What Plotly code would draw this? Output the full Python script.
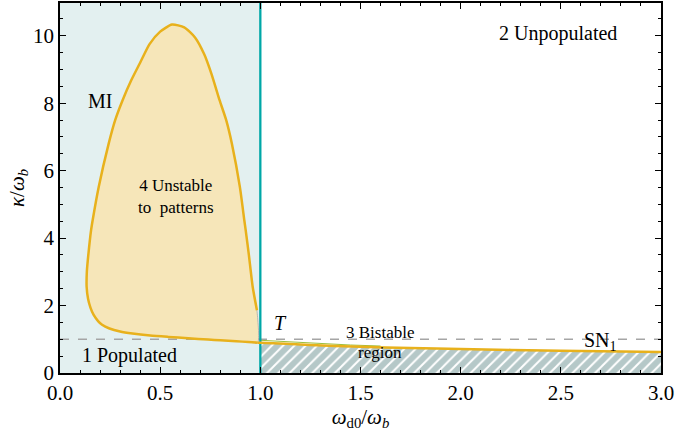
import plotly.graph_objects as go

# --- data ---
# Boundary of region 4 ("Unstable to patterns"), starting bottom-right, going left along the
# bottom, up the left side, over the top and down the right side to x ~ 1.
loop_x = [0.987, 0.94, 0.88, 0.80, 0.74, 0.64, 0.54, 0.45, 0.362, 0.30, 0.247, 0.21, 0.19, 0.168,
          0.152, 0.14, 0.133, 0.134, 0.142, 0.155, 0.163, 0.193, 0.243, 0.275, 0.312, 0.355, 0.40,
          0.447, 0.50, 0.559, 0.62, 0.674, 0.72, 0.756, 0.797, 0.83, 0.858, 0.898, 0.92, 0.927,
          0.942, 0.962, 0.983]
loop_y = [0.90, 0.92, 0.94, 0.97, 0.99, 1.03, 1.07, 1.11, 1.17, 1.23, 1.32, 1.43, 1.54, 1.72,
          1.94, 2.2, 2.55, 3.0, 3.54, 4.23, 4.53, 5.51, 6.8, 7.49, 8.08, 8.67, 9.2,
          9.75, 10.12, 10.33, 10.25, 9.95, 9.45, 8.87, 8.08, 7.49, 6.8, 5.51, 4.53, 4.23,
          3.54, 2.55, 1.86]

# SN1 branch (lower edge of the bistable region)
sn_x = [0.987, 1.0, 1.25, 1.5, 1.75, 2.0, 2.5, 3.0]
sn_y = [0.90, 0.90, 0.83, 0.78, 0.74, 0.71, 0.66, 0.62]

# thin greenish branch near T
g_x = [1.0, 1.2, 1.45, 1.6]
g_y = [0.97, 0.90, 0.83, 0.80]

x_ticks = [0.0, 0.5, 1.0, 1.5, 2.0, 2.5, 3.0]
x_tick_labels = ["0.0", "0.5", "1.0", "1.5", "2.0", "2.5", "3.0"]
y_ticks = [0, 2, 4, 6, 8, 10]

ORANGE = "#E8B11C"
FILL_OR = "#F6E6B9"
BLUE_BG = "#E3F0F0"
TEAL = "#00A7A7"
SERIF = "Liberation Serif"

fig = go.Figure()

# region 1 / MI background (x < 1)
fig.add_trace(go.Scatter(x=[0, 1, 1, 0, 0], y=[0, 0, 11, 11, 0], mode="none",
                         fill="toself", fillcolor=BLUE_BG, hoverinfo="skip"))

# dashed line kappa = omega_b
fig.add_trace(go.Scatter(x=[0, 3], y=[1, 1], mode="lines",
                         line=dict(color="#A5A5A5", width=1.3, dash="dash"), hoverinfo="skip"))

# region 4 fill
fig.add_trace(go.Scatter(x=loop_x + [loop_x[0]], y=loop_y + [loop_y[0]], mode="lines",
                         fill="toself", fillcolor=FILL_OR,
                         line=dict(color="#A8A8A8", width=0.8, shape="spline", smoothing=0.6),
                         hoverinfo="skip"))

# hatched bistable region
fig.add_trace(go.Scatter(x=sn_x[1:] + [3, 1, 1], y=sn_y[1:] + [0, 0, sn_y[1]], mode="none",
                         fill="toself", fillcolor="#B5C8C8",
                         fillpattern=dict(shape="/", bgcolor="#B5C8C8", fgcolor="white",
                                          fgopacity=1, size=8, solidity=0.25),
                         hoverinfo="skip"))

# thin green branch
fig.add_trace(go.Scatter(x=g_x, y=g_y, mode="lines", line=dict(color="#9DBF3C", width=1),
                         hoverinfo="skip"))

# teal boundary at omega_d0 = omega_b
fig.add_trace(go.Scatter(x=[1, 1], y=[0, 11], mode="lines",
                         line=dict(color=TEAL, width=2.3), hoverinfo="skip"))

# orange MI boundary (open at the right side)
fig.add_trace(go.Scatter(x=loop_x, y=loop_y, mode="lines",
                         line=dict(color=ORANGE, width=2.5, shape="spline", smoothing=0.6),
                         hoverinfo="skip"))
# SN1 orange line
fig.add_trace(go.Scatter(x=sn_x, y=sn_y, mode="lines",
                         line=dict(color=ORANGE, width=2.5, shape="spline", smoothing=0.5),
                         hoverinfo="skip"))


def ann(x, y, text, size=20):
    fig.add_annotation(x=x, y=y, text=text, showarrow=False,
                       font=dict(family=SERIF, size=size, color="black"))


ann(0.198, 8.05, "MI")
ann(2.485, 10.06, "2 Unpopulated")
ann(0.346, 0.53, "1 Populated")
ann(0.58, 5.23, "4 Unstable<br>to  patterns", 17)
ann(1.10, 1.48, "<i>T</i>")
ann(1.596, 1.19, "3 Bistable", 17)
ann(1.596, 0.60, "region", 17)
ann(2.70, 0.93, "SN<sub>1</sub>")

axis_common = dict(showline=True, linecolor="black", linewidth=1.5, mirror="ticks",
                   ticks="inside", ticklen=6, tickwidth=1.2, tickcolor="black",
                   showgrid=False, zeroline=False, ticklabeloverflow="allow",
                   tickfont=dict(family=SERIF, size=21, color="black"))

fig.update_xaxes(range=[0, 3], tickvals=x_ticks, ticktext=x_tick_labels,
                 minor=dict(dtick=0.1, ticks="inside", ticklen=3, tickcolor="black", showgrid=False),
                 title=dict(text="<i>ω</i><sub>d0</sub>/<i>ω<sub>b</sub></i>",
                            font=dict(family=SERIF, size=21, color="black"), standoff=7),
                 **axis_common)
fig.update_yaxes(range=[0, 10.97], tickvals=y_ticks,
                 minor=dict(dtick=0.5, ticks="inside", ticklen=3, tickcolor="black", showgrid=False),
                 title=dict(text="<i>κ</i>/<i>ω<sub>b</sub></i>",
                            font=dict(family=SERIF, size=21, color="black"), standoff=3),
                 **axis_common)

fig.update_layout(width=675, height=431, margin=dict(l=60, r=7, t=1, b=58),
                  plot_bgcolor="white", paper_bgcolor="white", showlegend=False)

fig.write_html("out.html")
